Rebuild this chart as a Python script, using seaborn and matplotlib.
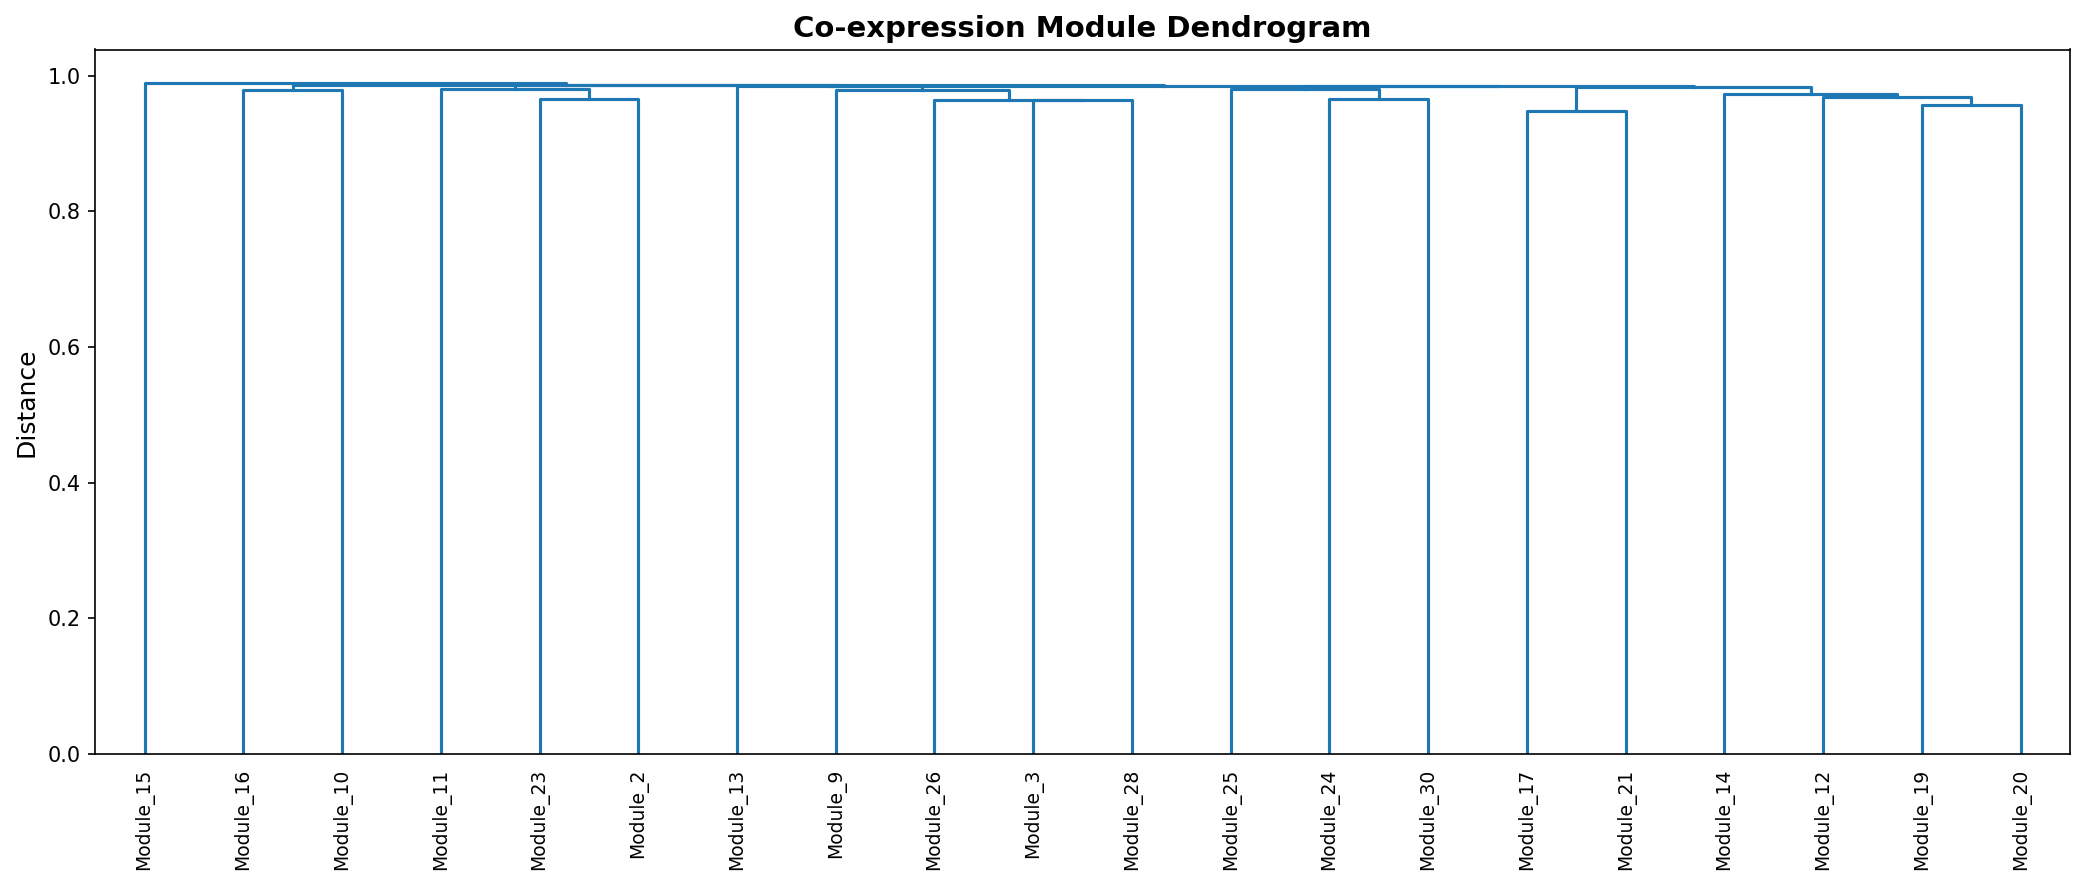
import pandas as pd
import matplotlib
matplotlib.use("Agg")
import matplotlib.pyplot as plt
import seaborn as sns

# Leaf labels in dendrogram order
labels = [
    "Module_15", "Module_16", "Module_10", "Module_11", "Module_23",
    "Module_2", "Module_13", "Module_9", "Module_26", "Module_3",
    "Module_28", "Module_25", "Module_24", "Module_30", "Module_17",
    "Module_21", "Module_14", "Module_12", "Module_19", "Module_20",
]

# Merges: node ids 0-19 are leaves, new nodes numbered from 20 upwards
merge_left = [14, 18, 9, 8, 12, 4, 17, 16, 7, 1, 11, 3, 20, 6, 30, 33, 31, 29, 0]
merge_right = [15, 19, 10, 22, 13, 5, 21, 26, 23, 2, 24, 25, 27, 28, 32, 34, 35, 36, 37]
merge_height = [0.948, 0.9565, 0.9633, 0.9645, 0.9648, 0.9655, 0.969, 0.9724,
                0.978, 0.9786, 0.9797, 0.9800, 0.9827, 0.9843, 0.9847, 0.9852,
                0.9858, 0.9866, 0.9889]

# --------------------------------------------------
# Build link segments (scipy-style: leaves at 5, 15, 25, ...)
# --------------------------------------------------
n = len(labels)
node_x = {i: 5 + 10 * i for i in range(n)}
node_y = {i: 0.0 for i in range(n)}

rows = []
for k, (a, b, h) in enumerate(zip(merge_left, merge_right, merge_height)):
    node = n + k
    xs = [node_x[a], node_x[a], node_x[b], node_x[b]]
    ys = [node_y[a], h, h, node_y[b]]
    for order, (x, y) in enumerate(zip(xs, ys)):
        rows.append({"link": k, "order": order, "x": x, "y": y})
    node_x[node] = (node_x[a] + node_x[b]) / 2
    node_y[node] = h

links = pd.DataFrame(rows)

# --------------------------------------------------
# Plot
# --------------------------------------------------
fig, ax = plt.subplots(figsize=(14, 6), dpi=150)

sns.lineplot(
    data=links,
    x="x",
    y="y",
    units="link",
    estimator=None,
    sort=False,
    color=sns.color_palette()[0],
    linewidth=1.5,
    legend=False,
    ax=ax,
)

ax.set_xlim(0, 10 * n)
ax.set_ylim(0, max(merge_height) * 1.05)
ax.set_xticks([5 + 10 * i for i in range(n)])
ax.set_xticklabels(labels, rotation=90, fontsize=9)
for line in ax.get_xticklines():
    line.set_visible(False)

ax.set_xlabel("")
ax.set_ylabel("Distance", fontsize=12)
ax.set_title("Co-expression Module Dendrogram", fontsize=14, fontweight="bold")

plt.tight_layout()
plt.savefig("out.png", dpi=150, bbox_inches="tight")
